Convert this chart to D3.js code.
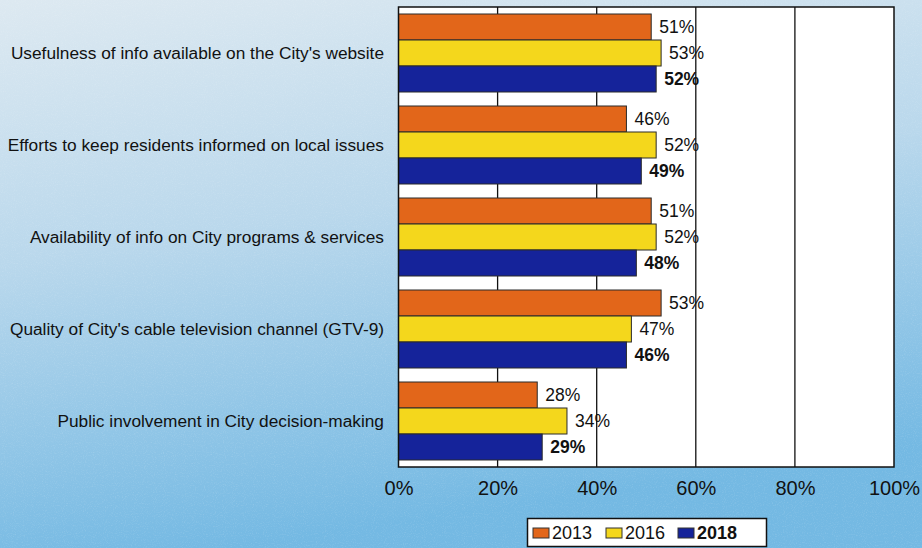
<!DOCTYPE html>
<html>
<head>
<meta charset="utf-8">
<script src="https://cdn.jsdelivr.net/npm/d3@7"></script>
<style>
  html, body { margin: 0; padding: 0; }
  body { width: 922px; height: 548px; overflow: hidden; }
  text { font-family: Arial, "Liberation Sans", sans-serif; fill: #111; }
</style>
</head>
<body>
<svg id="chart" width="922" height="548"></svg>
<script>
// Satisfaction ratings by aspect, three survey years
const categories = [
  "Usefulness of info available on the City's website",
  "Efforts to keep residents informed on local issues",
  "Availability of info on City programs & services",
  "Quality of City's cable television channel (GTV-9)",
  "Public involvement in City decision-making"
];
const years = ["2013", "2016", "2018"];
const values2013 = [51, 46, 51, 53, 28];
const values2016 = [53, 52, 52, 47, 34];
const values2018 = [52, 49, 48, 46, 29];
const tickValues = [0, 20, 40, 60, 80, 100];
const colors = ["#e2661a", "#f4d71c", "#15239a"];

const seriesValues = [values2013, values2016, values2018];

const svg = d3.select("#chart");
const W = 922, H = 548;
const plot = { left: 398.5, right: 894, top: 7, bottom: 467 };

// Background: soft blue wash with fine grain
const defs = svg.append("defs");
const bg = defs.append("linearGradient").attr("id", "bg")
  .attr("x1", 0).attr("y1", 0).attr("x2", 0.25).attr("y2", 1);
bg.append("stop").attr("offset", "0%").attr("stop-color", "#dde9f1");
bg.append("stop").attr("offset", "45%").attr("stop-color", "#bad8ec");
bg.append("stop").attr("offset", "100%").attr("stop-color", "#74b9e3");

const grain = defs.append("filter").attr("id", "grain")
  .attr("x", 0).attr("y", 0).attr("width", "100%").attr("height", "100%");
grain.append("feTurbulence").attr("type", "fractalNoise")
  .attr("baseFrequency", 0.9).attr("numOctaves", 2).attr("seed", 3).attr("result", "n");
grain.append("feColorMatrix").attr("in", "n").attr("type", "matrix")
  .attr("values", "0 0 0 0 1  0 0 0 0 1  0 0 0 0 1  0 0 0 0.9 -0.45");

svg.append("rect").attr("width", W).attr("height", H).attr("fill", "url(#bg)");
svg.append("rect").attr("width", W).attr("height", H)
  .attr("filter", "url(#grain)").attr("opacity", 0.35);

// Scales
const x = d3.scaleLinear().domain([0, 100]).range([plot.left, plot.right]);
const y = d3.scaleBand().domain(categories).range([plot.top, plot.bottom])
  .paddingInner(14 / 92).paddingOuter(7 / 92);
const ySub = d3.scaleBand().domain(years).range([0, y.bandwidth()]);

// Plot area
svg.append("rect")
  .attr("x", plot.left).attr("y", plot.top)
  .attr("width", plot.right - plot.left).attr("height", plot.bottom - plot.top)
  .attr("fill", "#ffffff");

// Vertical gridlines
svg.append("g").selectAll("line")
  .data(tickValues.slice(1, -1))
  .join("line")
  .attr("x1", d => x(d)).attr("x2", d => x(d))
  .attr("y1", plot.top).attr("y2", plot.bottom)
  .attr("stroke", "#111").attr("stroke-width", 1.3);

// Bars
const groups = svg.append("g").selectAll("g")
  .data(categories)
  .join("g")
  .attr("transform", c => `translate(0,${y(c)})`);

groups.each(function(c, ci) {
  const g = d3.select(this);
  const rows = years.map((yr, si) => ({ yr, si, v: seriesValues[si][ci] }));
  g.selectAll("rect")
    .data(rows)
    .join("rect")
    .attr("x", x(0))
    .attr("y", d => ySub(d.yr))
    .attr("width", d => x(d.v) - x(0))
    .attr("height", ySub.bandwidth())
    .attr("fill", d => colors[d.si])
    .attr("stroke", "#2a2a2a").attr("stroke-width", 1);
  g.selectAll("text")
    .data(rows)
    .join("text")
    .attr("x", d => x(d.v) + 8)
    .attr("y", d => ySub(d.yr) + ySub.bandwidth() / 2 + 6)
    .attr("font-size", 17.5)
    .attr("font-weight", d => d.yr === "2018" ? "bold" : "normal")
    .text(d => d.v + "%");
});

// Plot border
svg.append("rect")
  .attr("x", plot.left).attr("y", plot.top)
  .attr("width", plot.right - plot.left).attr("height", plot.bottom - plot.top)
  .attr("fill", "none").attr("stroke", "#111").attr("stroke-width", 1.5);

// Category labels
svg.append("g").selectAll("text")
  .data(categories)
  .join("text")
  .attr("x", 384)
  .attr("y", c => y(c) + y.bandwidth() / 2 + 6)
  .attr("text-anchor", "end")
  .attr("font-size", 17.3)
  .text(c => c);

// X axis
const xAxis = d3.axisBottom(x).tickValues(tickValues)
  .tickFormat(d => d + "%").tickSize(0).tickPadding(0);
const ax = svg.append("g").attr("transform", `translate(0,${plot.bottom})`).call(xAxis);
ax.select(".domain").remove();
ax.selectAll("text")
  .attr("y", 28).attr("dy", null)
  .attr("font-size", 20)
  .style("font-family", "Arial, 'Liberation Sans', sans-serif")
  .attr("fill", "#111");

// Legend
const legend = svg.append("g");
legend.append("rect")
  .attr("x", 527.5).attr("y", 518.5).attr("width", 239).attr("height", 28)
  .attr("fill", "#ffffff").attr("stroke", "#111").attr("stroke-width", 1.5);
const legendX = [533, 606, 678];
years.forEach((yr, i) => {
  legend.append("rect")
    .attr("x", legendX[i]).attr("y", 528).attr("width", 16).attr("height", 10)
    .attr("fill", colors[i]).attr("stroke", "#333").attr("stroke-width", 1);
  legend.append("text")
    .attr("x", legendX[i] + 19).attr("y", 539)
    .attr("font-size", 18)
    .attr("font-weight", yr === "2018" ? "bold" : "normal")
    .text(yr);
});
</script>
</body>
</html>
